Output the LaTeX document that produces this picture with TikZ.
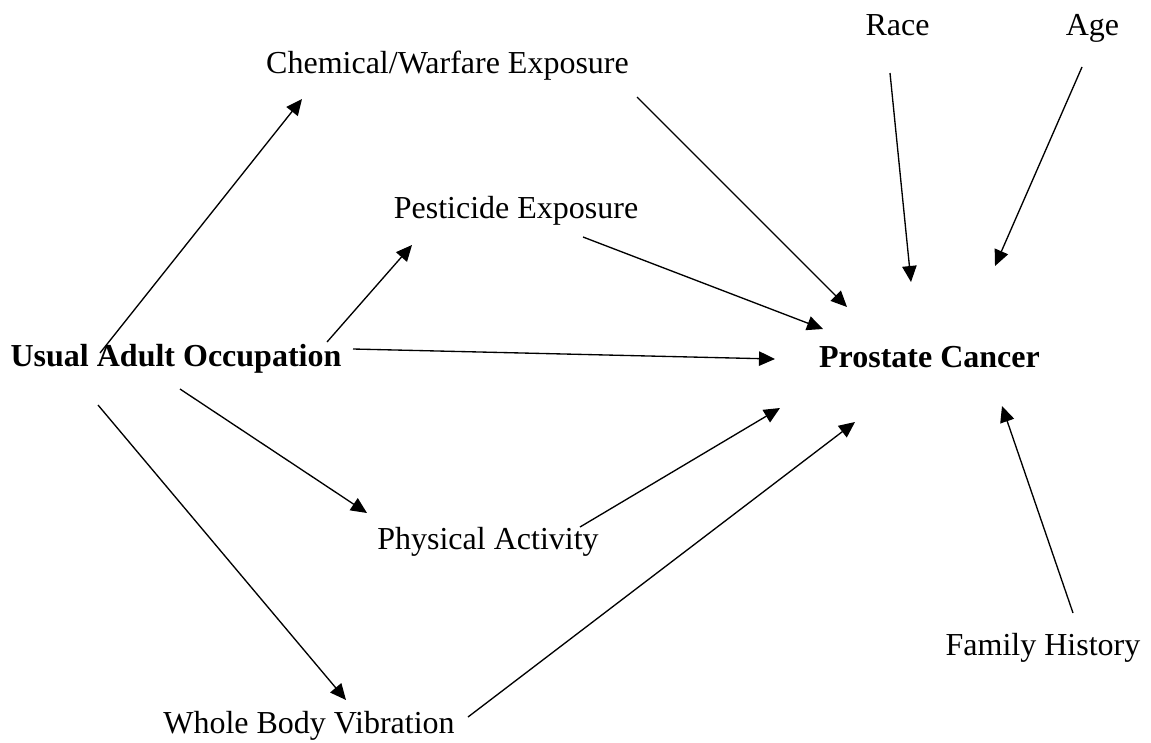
\documentclass[tikz,border=0pt]{standalone}
\usepackage{fontspec}
\setmainfont{Liberation Serif}
\usetikzlibrary{arrows.meta}
\begin{document}
\begin{tikzpicture}[x=0.375pt,y=-0.375pt,>={Triangle[length=6pt,width=5.4pt]},
  var/.style={anchor=base,inner sep=0pt,font=\fontsize{12}{14}\selectfont},
  key/.style={var,font=\fontsize{12}{14}\selectfont\bfseries},
  dag/.style={->,line width=0.5pt}]
  \useasboundingbox (0,0) rectangle (1151,742);
  % variables
  \node[key] (uao) at (176,366) {Usual Adult Occupation};
  \node[key] (pc) at (929.5,367) {Prostate Cancer};
  \node[var] (chem) at (447.5,73) {Chemical/Warfare Exposure};
  \node[var] (pest) at (516,218) {Pesticide Exposure};
  \node[var] (pa) at (488,549) {Physical Activity};
  \node[var] (wbv) at (309,733) {Whole Body Vibration};
  \node[var] (race) at (897.5,35) {Race};
  \node[var] (age) at (1092.5,35) {Age};
  \node[var] (fh) at (1043,655) {Family History};
  % paths from occupation
  \draw[dag] ([shift={(-76,-13)}]uao.base) -- ([shift={(-145.5,26)}]chem.base);
  \draw[dag] ([shift={(151,-24)}]uao.base) -- ([shift={(-104,27)}]pest.base);
  \draw[dag] ([shift={(177,-17)}]uao.base) -- ([shift={(-154.5,-8)}]pc.base);
  \draw[dag] ([shift={(4,23)}]uao.base) -- ([shift={(-121,-36)}]pa.base);
  \draw[dag] ([shift={(-78,39)}]uao.base) -- ([shift={(37,-33)}]wbv.base);
  % paths into prostate cancer
  \draw[dag] ([shift={(189.5,24)}]chem.base) -- ([shift={(-82.5,-60)}]pc.base);
  \draw[dag] ([shift={(67,19)}]pest.base) -- ([shift={(-106.5,-38)}]pc.base);
  \draw[dag] ([shift={(92,-22)}]pa.base) -- ([shift={(-149.5,41)}]pc.base);
  \draw[dag] ([shift={(159,-16)}]wbv.base) -- ([shift={(-74.5,55)}]pc.base);
  % confounders
  \draw[dag] ([shift={(-7.5,38)}]race.base) -- ([shift={(-18.5,-85)}]pc.base);
  \draw[dag] ([shift={(-10.5,32)}]age.base) -- ([shift={(65.5,-101)}]pc.base);
  \draw[dag] ([shift={(30,-42)}]fh.base) -- ([shift={(72.5,39)}]pc.base);
\end{tikzpicture}
\end{document}
